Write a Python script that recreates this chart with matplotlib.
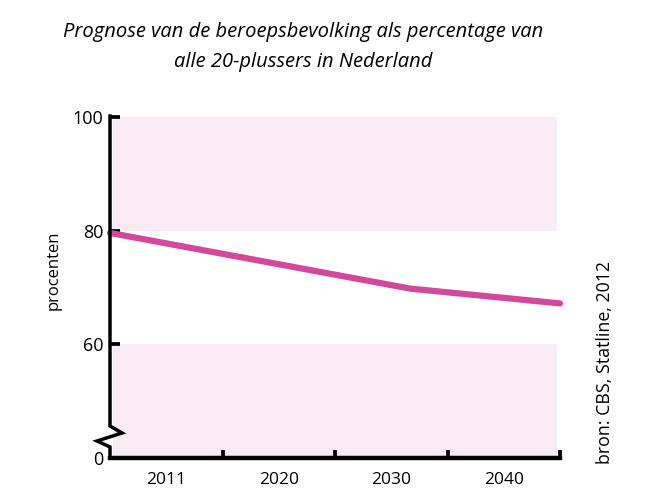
import matplotlib
matplotlib.use("Agg")
import matplotlib.pyplot as plt
from matplotlib.lines import Line2D

# data
period_labels = ["2011", "2020", "2030", "2040"]
line_pos = [0.0, 2.67, 4.0]
line_vals = [79.6, 69.8, 67.2]
ytick_vals = [40, 60, 80, 100]
ytick_labels = ["0", "60", "80", "100"]
bands = [(80, 100), (40, 60)]

pink = "#D2489B"
band_col = "#F9EAF4"
FONT = "Open Sans"

fig = plt.figure(figsize=(6.65, 5.01), dpi=100)
ax = fig.add_axes([110/665, 43/501, 450/665, 341/501])
ax.set_xlim(0, 4)
ax.set_ylim(40, 100)

for lo, hi in bands:
    ax.fill_between([0.03, 3.97], lo, hi, color=band_col, lw=0, zorder=0)

ax.plot(line_pos, line_vals, color=pink, lw=4.5, solid_capstyle="round", clip_on=False, zorder=3)

for s in ["top", "right", "left"]:
    ax.spines[s].set_visible(False)
ax.spines["bottom"].set_linewidth(3.2)
ax.spines["bottom"].set_capstyle("projecting")

# left spine with break
tr = ax.transAxes
h = 341.0
def ya(py):
    return (458 - py) / h
def xa(px):
    return (px - 110) / 450.0
xs = [xa(110), xa(110), xa(122), xa(97), xa(110), xa(110)]
ys = [ya(116), ya(426), ya(433), ya(441), ya(447), ya(458)]
ax.add_line(Line2D(xs, ys, transform=tr, color="black", lw=2.5, clip_on=False, solid_joinstyle="miter", zorder=4))

ax.set_yticks(ytick_vals)
ax.set_yticklabels(ytick_labels, fontsize=13, family=FONT)
ax.tick_params(axis="y", direction="in", length=7, width=2.7, pad=5, color="black")
ax.set_xticks([1, 2, 3, 4])
ax.set_xticklabels([])
ax.tick_params(axis="x", direction="in", length=6, width=2.7, color="black")
for i, lab in enumerate(period_labels):
    ax.text(i + 0.5, -0.04, lab, transform=ax.get_xaxis_transform(), ha="center", va="top",
            fontsize=12.5, family=FONT)

fig.text(54/665, 1 - 270/501, "procenten", rotation=90, ha="center", va="center", fontsize=12, family=FONT)
fig.text(605/665, 1 - 362/501, "bron: CBS, Statline, 2012", rotation=90, ha="center", va="center",
         fontsize=12.8, family=FONT)
fig.text(303/665, 1 - 47/501, "Prognose van de beroepsbevolking als percentage van\nalle 20-plussers in Nederland",
         ha="center", va="center", fontsize=14.5, style="italic", family=FONT, linespacing=1.65)

fig.savefig("out.png", dpi=100)
